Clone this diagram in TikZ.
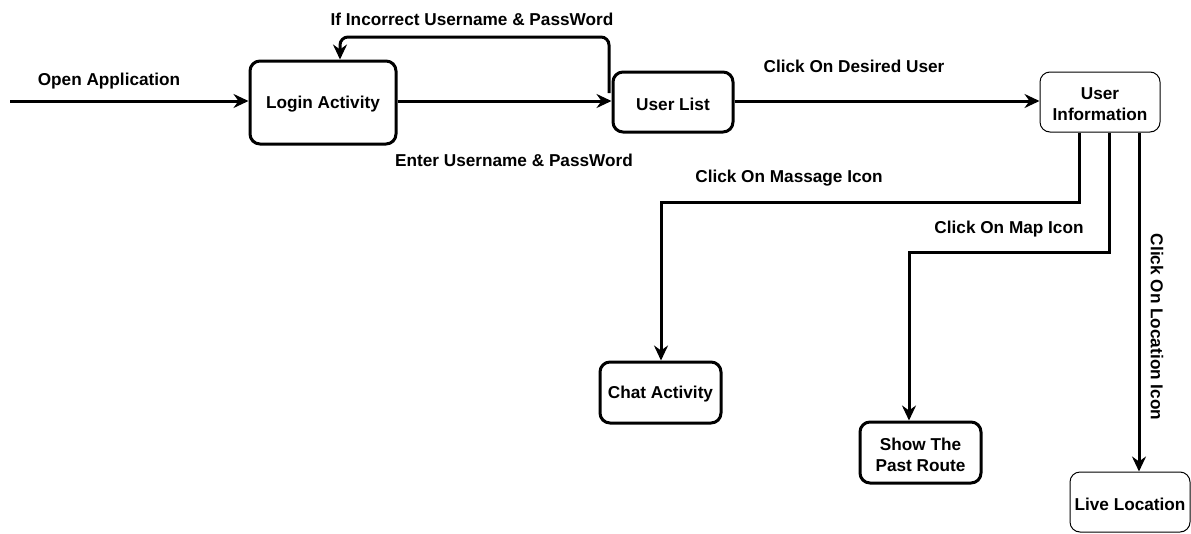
\documentclass[tikz,border=0pt]{standalone}
\usepackage{fontspec}
\setmainfont{Liberation Sans}
\usetikzlibrary{arrows.meta}
\begin{document}
\begin{tikzpicture}[x=1pt,y=-1pt,
  every node/.style={font=\fontsize{17.2}{21}\selectfont\bfseries},
  thickbox/.style 2 args={draw, line width=3pt, rounded corners=10pt, minimum width=#1, minimum height=#2, inner sep=0pt},
  thinbox/.style 2 args={draw, line width=1pt, rounded corners=10pt, minimum width=#1, minimum height=#2, inner sep=0pt},
  txt/.style={label={[align=center, inner sep=0pt, yshift=-2pt]center:#1}},
  flow/.style={line width=3pt, -{Stealth[length=15pt,width=14pt,inset=5pt]}},
  lbl/.style={inner sep=0pt, yshift=-1.5pt}]
\useasboundingbox (0,0) rectangle (1191,533);
% nodes
\node[thickbox={146pt}{83pt}, txt={Login Activity}] (login) at (323,102.5) {};
\node[thickbox={120pt}{60pt}, txt={User List}] (ulist) at (673,102) {};
\node[thinbox={120pt}{60pt}, txt={User\\Information}] (uinfo) at (1100,102) {};
\node[thickbox={121pt}{61pt}, txt={Chat Activity}] (chat) at (660.5,392.5) {};
\node[thickbox={121pt}{61pt}, txt={Show The\\Past Route}] (route) at (920.5,452.5) {};
\node[thinbox={120pt}{60pt}, txt={Live Location}] (live) at (1130,502) {};
% start
\coordinate (start) at (10,101);
\draw[flow] (start) -- (login.west |- start);
\node[lbl] (l1) at (109,80) {Open Application};
% login -> user list
\draw[flow] (login.east |- 0,101) -- (ulist.west |- 0,101);
\node[lbl] (l2) at (514,159) {Enter Username \& PassWord};
% feedback
\coordinate (fb) at (609,93);
\draw[flow, rounded corners=8pt] (fb) -- (609,37) -- (340,37) -- (login.north -| 340,0);
\node[lbl] (l3) at (472,18) {If Incorrect Username \& PassWord};
% user list -> user info
\draw[flow] (ulist.east |- 0,101) -- (uinfo.west |- 0,101);
\node[lbl] (l4) at (854,65) {Click On Desired User};
% massage
\draw[flow] (uinfo.south -| 1079,0) -- (1079,202) -- (661,202) -- (chat.north -| 661,0);
\node[lbl] (l5) at (789,177) {Click On Massage Icon};
% map
\draw[flow] (uinfo.south -| 1109,0) -- (1109,252) -- (909,252) -- (route.north -| 909,0);
\node[lbl] (l6) at (1009,228) {Click On Map Icon};
% location
\draw[flow] (uinfo.south -| 1139,0) -- (live.north -| 1139,0);
\node[inner sep=0pt, rotate=-90] (l7) at (1157,327) {Click On Location Icon};
\end{tikzpicture}
\end{document}
